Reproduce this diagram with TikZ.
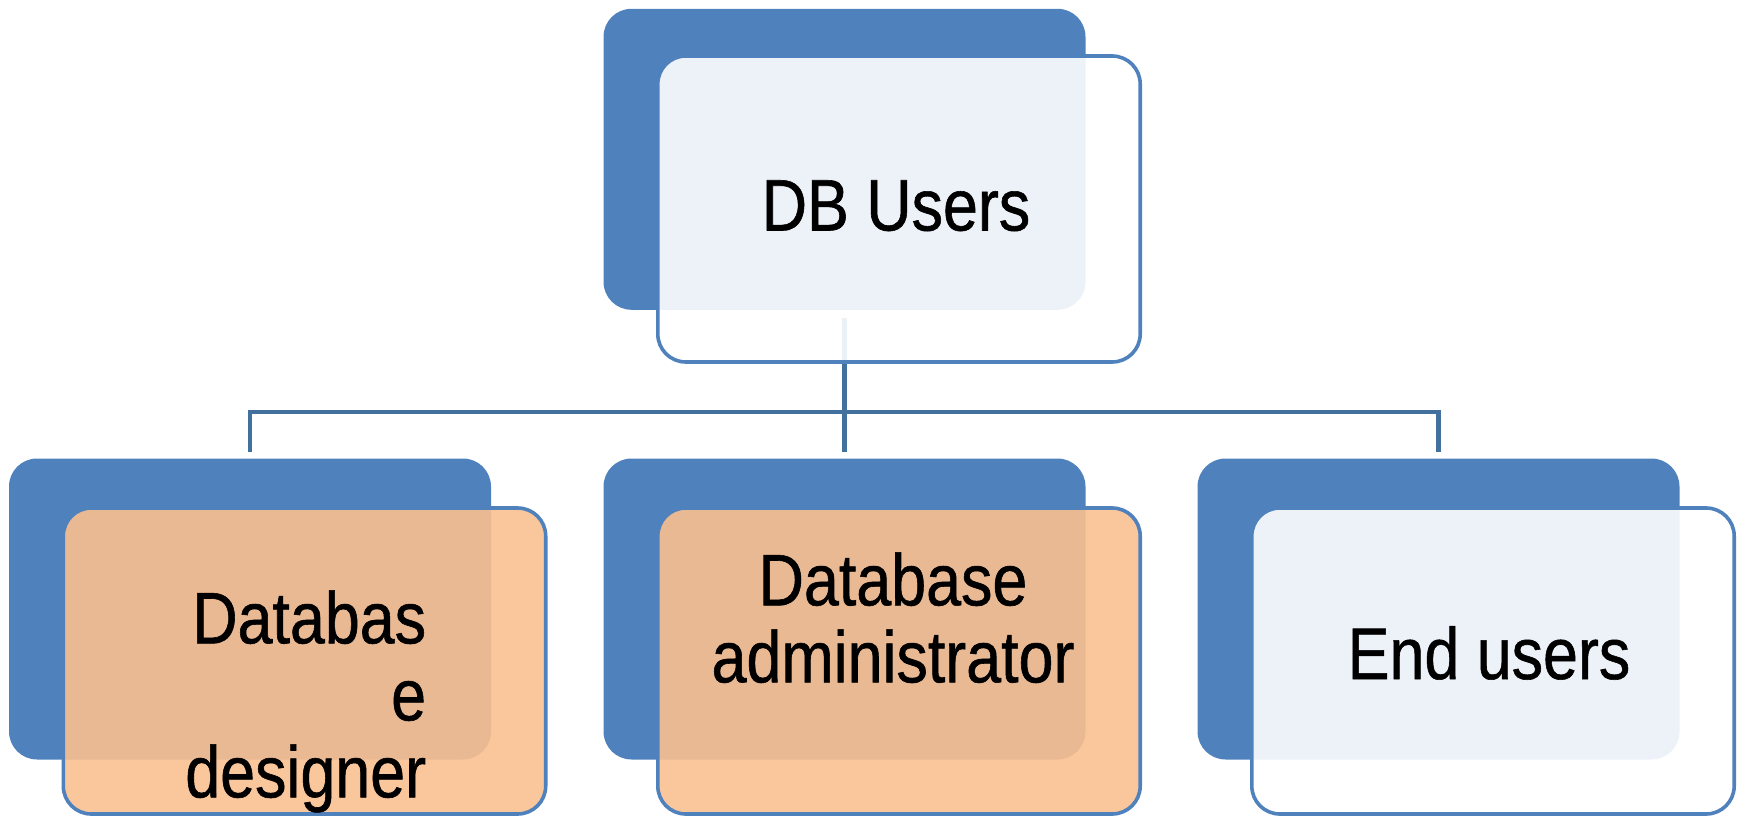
\documentclass[tikz,border=0pt]{standalone}
\usepackage{fontspec}
\setmainfont{Liberation Sans}[FakeStretch=0.86, FakeBold=0.8]
\usetikzlibrary{backgrounds}
\definecolor{accent}{HTML}{4F81BD}
\definecolor{linkblue}{HTML}{41719C}
\definecolor{peach}{HTML}{FAC090}
\tikzset{
  backbox/.style={rectangle, rounded corners=14pt, fill=accent, inner sep=0pt,
    minimum width=241pt, minimum height=150.5pt},
  frontbox/.style={rectangle, rounded corners=14pt, draw=accent, line width=1.8pt,
    fill opacity=0.9, inner sep=0pt, minimum width=241.2pt, minimum height=153pt},
  boxtext/.style={inner sep=0pt, text=black, font=\fontsize{36.5}{38.5}\selectfont},
  conn/.style={draw=linkblue, line width=2.1pt},
}
\begin{document}
\begin{tikzpicture}[x=0.5pt, y=-0.5pt]
\useasboundingbox (0,0) rectangle (1746,818);

% top level
\node[backbox] (topback) at (844.5,159.3) {};
\node[frontbox, fill=white] (topfront) at (899,209) {};
\node[boxtext, anchor=base] (toptext) at (896,230.5) {DB Users};

% second level: left
\node[backbox] (leftback) at (250,609) {};
\node[frontbox, fill=peach] (leftfront) at (304.5,661) {};
\node[boxtext, anchor=north east, align=right] (lefttext) at (426.5,590) {Databas\\e\\designer};

% second level: middle
\node[backbox] (midback) at (844.5,609) {};
\node[frontbox, fill=peach] (midfront) at (899,661) {};
\node[boxtext, anchor=north, align=center] (midtext) at (893,552) {Database\\administrator};

% second level: right
\node[backbox] (rightback) at (1438.5,609) {};
\node[frontbox, fill=white] (rightfront) at (1493,661) {};
\node[boxtext, anchor=base] (righttext) at (1489,679) {End users};

% connectors, kept underneath the boxes
\coordinate (bus) at (844.5,412);
\begin{pgfonlayer}{background}
  \draw[conn] ([yshift=-3.7pt]topback.south) -- ([yshift=3.3pt]midback.north);
  \draw[conn] ([yshift=3.3pt]leftback.north) |- (bus) -| ([yshift=3.3pt]rightback.north);
\end{pgfonlayer}
\end{tikzpicture}
\end{document}
